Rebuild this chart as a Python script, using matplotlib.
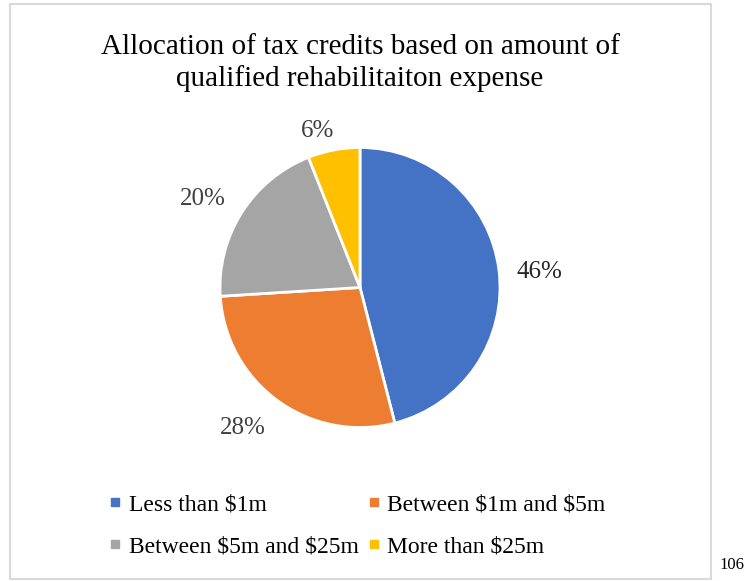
import numpy as np
import matplotlib.pyplot as plt
from matplotlib.lines import Line2D
from matplotlib.patches import Rectangle

plt.rcParams['font.family'] = ['Liberation Serif', 'DejaVu Serif']
plt.rcParams['text.parse_math'] = False

title = "Allocation of tax credits based on amount of\nqualified rehabilitaiton expense"
categories = ["Less than $1m", "Between $1m and $5m", "Between $5m and $25m", "More than $25m"]
shares = [46, 28, 20, 6]
colors = ["#4472C4", "#ED7D31", "#A5A5A5", "#FFC000"]
label_colors = ["#262626", "#404040", "#404040", "#404040"]
page_number = "106"

W, H = 745, 581
fig = plt.figure(figsize=(W / 100, H / 100), dpi=100)

# chart frame
fig.patches.append(Rectangle((9.5 / W, (H - 579) / H), (711 - 9.5) / W, (579 - 4) / H,
                             transform=fig.transFigure, fill=False,
                             edgecolor="#d9d9d9", linewidth=1.5))

fig.text(360 / W, 1 - 34 / H, title, ha="center", va="top",
         fontsize=21, color="black", linespacing=1.25)

# pie axes: centre (360, 287.5), radius ~140 px
cx, cy, r = 360, 287.5, 140
lim = 1.05
half = r * lim
ax = fig.add_axes([(cx - half) / W, (H - cy - half) / H, 2 * half / W, 2 * half / H])

wedges, _, autotexts = ax.pie(
    shares,
    colors=colors,
    startangle=90,
    counterclock=False,
    autopct="%d%%",
    pctdistance=1.0,
    wedgeprops=dict(edgecolor="white", linewidth=2),
    textprops=dict(fontsize=18),
)
# best-fit style label placement: distance factor and angle nudge (deg)
label_dist = [1.29, 1.29, 1.30, 1.18]
label_nudge = [-1.5, -4.5, 2.4, 4.0]
for t, c, d, a in zip(autotexts, label_colors, label_dist, label_nudge):
    x, y = t.get_position()
    th = np.arctan2(y, x) + np.radians(a)
    t.set_position((d * np.cos(th), d * np.sin(th) - 0.02))
    t.set_color(c)
ax.set_xlim(-lim, lim)
ax.set_ylim(-lim, lim)
ax.set_aspect("equal")
ax.axis("off")

handles = [Line2D([], [], marker="s", linestyle="none", markersize=6,
                  markerfacecolor=c, markeredgecolor=c) for c in colors]
order = [0, 2, 1, 3]
fig.legend([handles[i] for i in order], [categories[i] for i in order],
           ncol=2, loc="upper left", bbox_to_anchor=(110 / W, 1 - 494 / H),
           frameon=False, fontsize=17, handlelength=0.45, handletextpad=0.35,
           columnspacing=0.4, labelspacing=0.85, borderpad=0, borderaxespad=0)

fig.text(744 / W, 1 - 565 / H, page_number, ha="right", va="center", fontsize=12)

fig.savefig("out.png", dpi=100)
